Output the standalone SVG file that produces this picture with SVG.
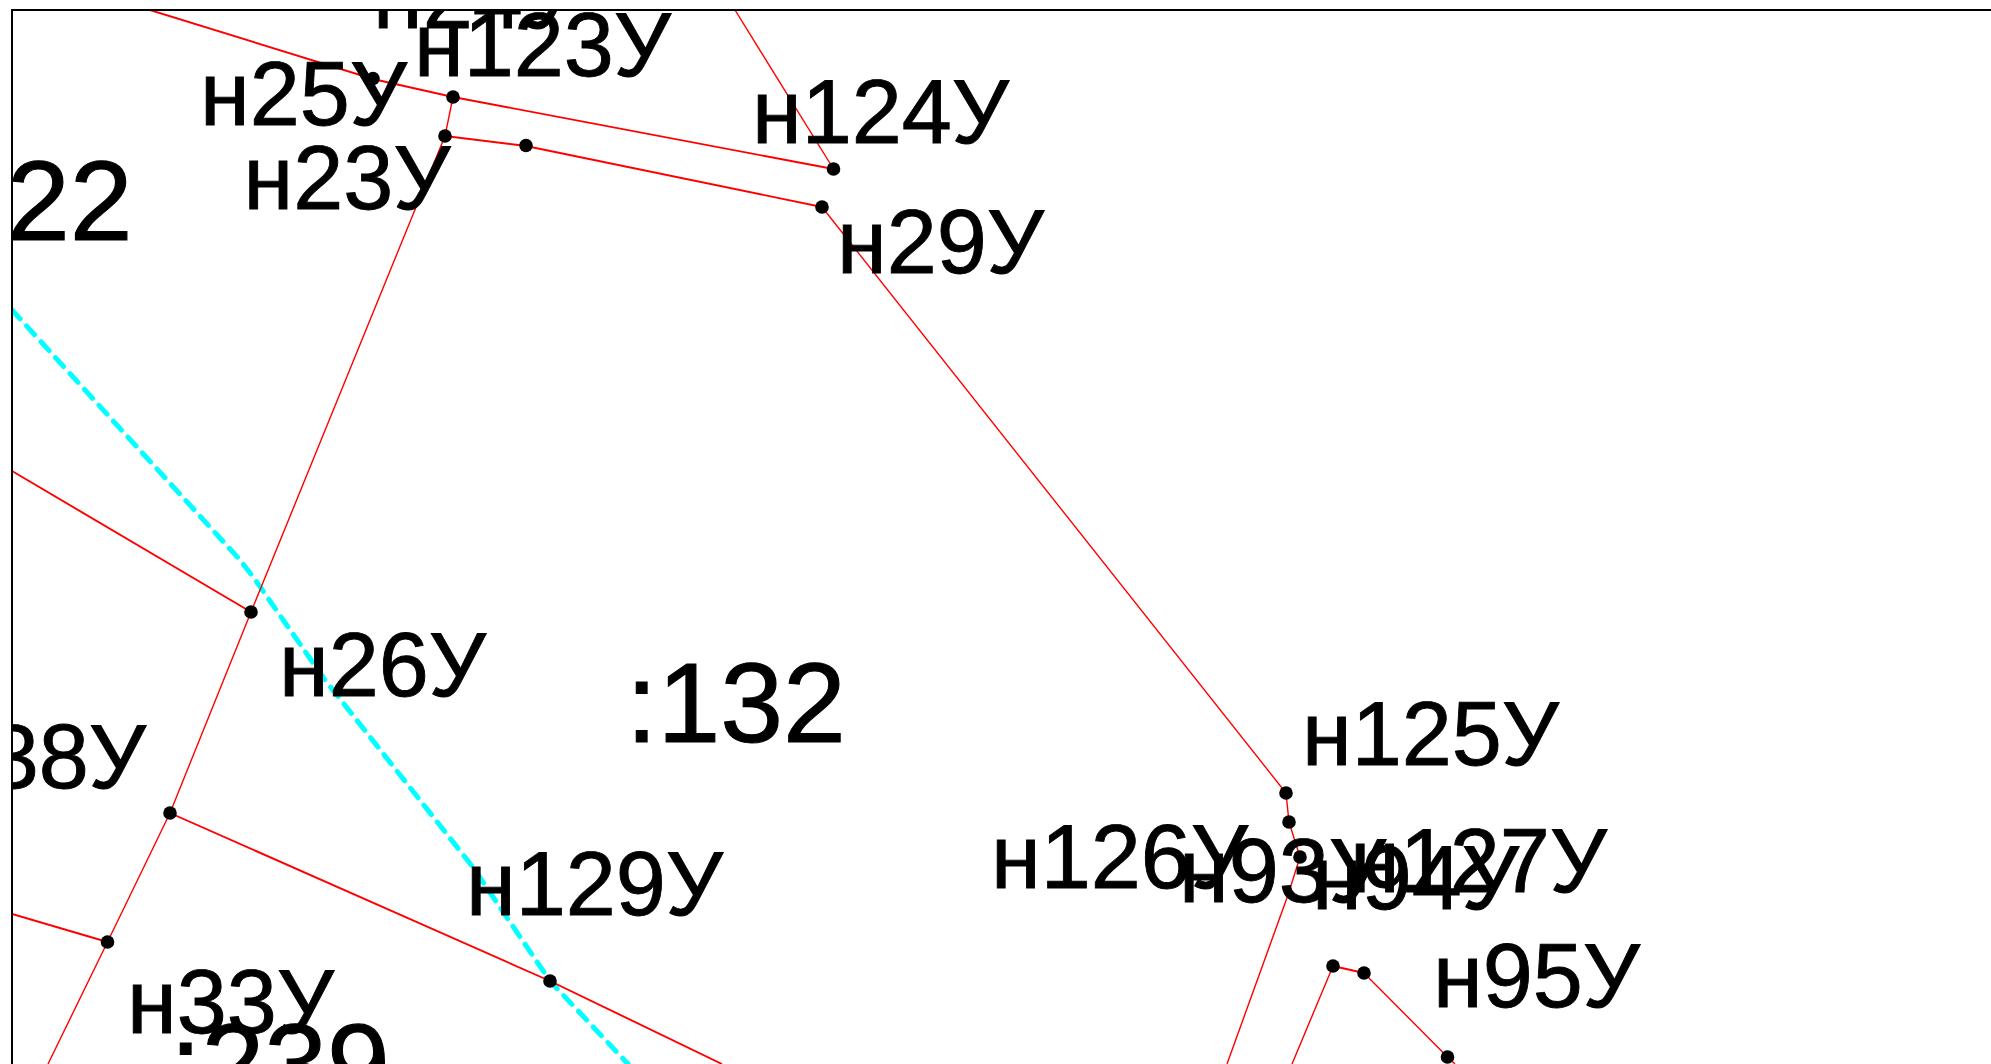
<svg xmlns="http://www.w3.org/2000/svg" width="1991" height="1064" viewBox="0 0 1991 1064">
<style>
.bg{fill:#fff}
.frame{fill:none;stroke:#000;stroke-width:2}
.r{fill:none;stroke:#f00;stroke-width:1.4}
.R{fill:none;stroke:#f00;stroke-width:1.9}
.c{fill:none;stroke:#0ff;stroke-width:5;stroke-dasharray:12 9.5;stroke-linecap:round;stroke-linejoin:round}
.d{fill:#000}
text{font-family:"Liberation Sans",Arial,sans-serif;fill:#000;stroke:#000;stroke-width:.9}
.l{font-size:90px}
.b{font-size:113px;stroke-width:1.1}
</style>
<defs><clipPath id="f"><rect x="12" y="10" width="1979" height="1054"/></clipPath></defs>
<rect class="bg" width="1991" height="1064"/>
<g clip-path="url(#f)">
<g id="connectors">
<path class="c" d="M12,310 L240,560 L254,578 L325,680 L472,866 L550,981 L628,1064"/>
<path class="R" d="M150,10 L373,79 L453,97 L833.5,169"/>
<path class="r" d="M735,10 L833.5,169"/>
<path class="r" d="M453,97 L445,136 L251,612 L170,813 L107.5,942 L48,1064"/>
<path class="R" d="M445,136 L526,146 L822,207"/>
<path class="r" d="M822,207 L1286,793 L1289,822 L1300,857 L1288,895 L1227,1064"/>
<path class="R" d="M12,471 L251,612"/>
<path class="R" d="M170,813 L550,981 L722,1064"/>
<path class="R" d="M12,914 L107.5,942"/>
<path class="r" d="M1292,1064 L1333,966"/>
<path class="R" d="M1333,966 L1364,973"/>
<path class="r" d="M1364,973 L1447.5,1057 L1455,1064"/>
</g>
<g id="n24"><text class="l" x="373" y="28">н24У</text></g>
<g id="n25"><circle class="d" cx="373" cy="78.5" r="6.8"/><text class="l" x="200" y="125">н25У</text></g>
<g id="n123"><circle class="d" cx="453" cy="97" r="6.8"/><text class="l" x="414" y="76">н123У</text></g>
<g id="n23"><circle class="d" cx="445" cy="136" r="6.8"/><text class="l" x="243.5" y="209">н23У</text></g>
<g id="n23a"><circle class="d" cx="526" cy="145.5" r="6.8"/></g>
<g id="n124"><circle class="d" cx="833.5" cy="169" r="6.8"/><text class="l" x="752" y="143">н124У</text></g>
<g id="n29"><circle class="d" cx="822" cy="207" r="6.8"/><text class="l" x="837" y="273">н29У</text></g>
<g id="n26"><circle class="d" cx="251" cy="612" r="6.8"/><text class="l" x="279" y="696">н26У</text></g>
<g id="n38"><circle class="d" cx="170" cy="813" r="6.8"/><text class="l" x="-61" y="788">н38У</text></g>
<g id="n33"><circle class="d" cx="107.5" cy="942" r="6.8"/><text class="l" x="127" y="1033">н33У</text></g>
<g id="n129"><circle class="d" cx="550" cy="981" r="6.8"/><text class="l" x="466" y="915">н129У</text></g>
<g id="n125"><circle class="d" cx="1286" cy="793" r="6.8"/><text class="l" x="1302" y="765">н125У</text></g>
<g id="n126"><circle class="d" cx="1289" cy="822" r="6.8"/><text class="l" x="991" y="888">н126У</text></g>
<g id="n127"><circle class="d" cx="1300" cy="857" r="6.8"/><text class="l" x="1350" y="892">н127У</text></g>
<g id="n93"><text class="l" x="1179" y="902">н93У</text></g>
<g id="n94"><text class="l" x="1312" y="909">н94У</text></g>
<g id="n95a"><circle class="d" cx="1333" cy="966" r="6.8"/></g>
<g id="n95b"><circle class="d" cx="1364" cy="973" r="6.8"/></g>
<g id="n95"><circle class="d" cx="1447.5" cy="1057" r="6.8"/><text class="l" x="1433" y="1007">н95У</text></g>
<g id="p22"><text class="b" x="7" y="240">22</text></g>
<g id="p132"><text class="b" x="626" y="742">:132</text></g>
<g id="p239"><text class="b" x="170" y="1103">:239</text></g>
</g>
<g id="frame"><path class="frame" d="M12,1064 V10 H1991"/></g>
</svg>
